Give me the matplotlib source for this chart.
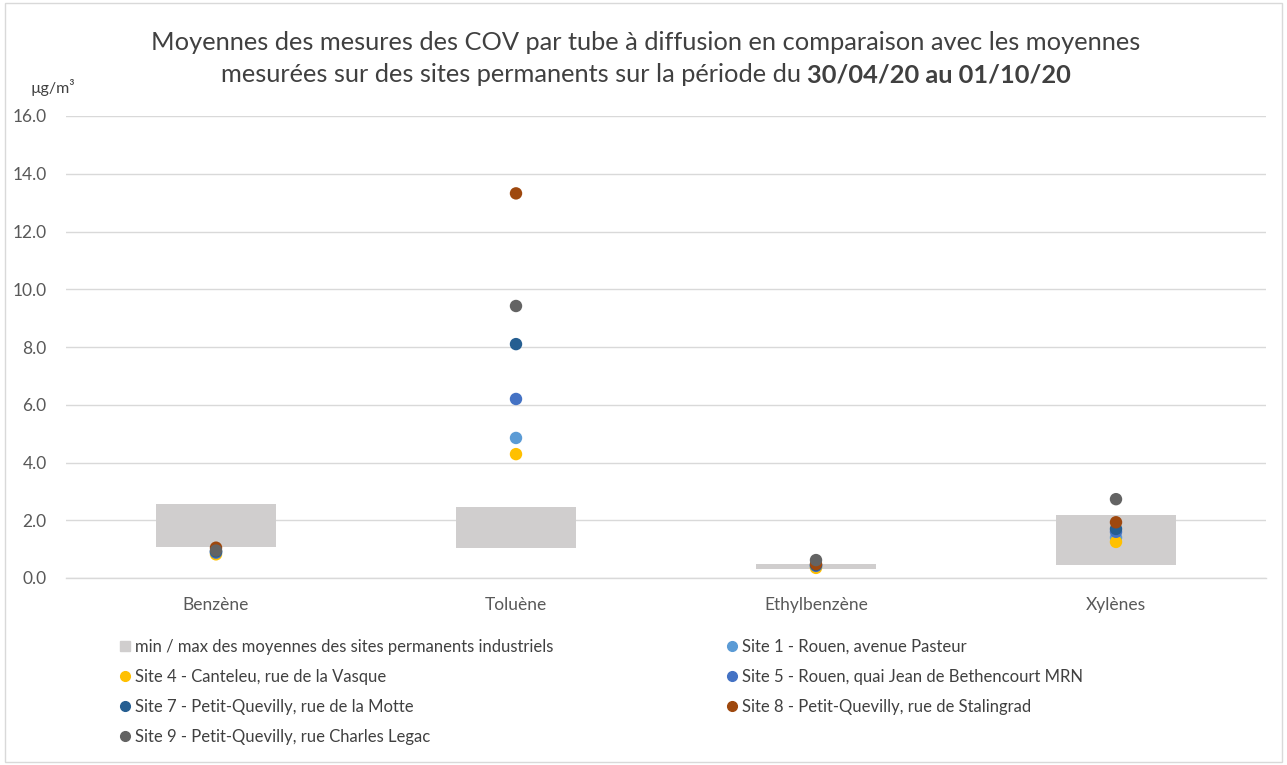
import matplotlib
matplotlib.use("Agg")
import matplotlib.pyplot as plt
import numpy as np
from matplotlib.patches import Rectangle
from matplotlib.lines import Line2D

plt.rcParams['font.family'] = ['Lato', 'DejaVu Sans']

categories = ["Benzène", "Toluène", "Ethylbenzène", "Xylènes"]
perm_min = [1.07, 1.04, 0.30, 0.45]
perm_max = [2.56, 2.46, 0.48, 2.18]

site_labels = [
    "Site 1 - Rouen, avenue Pasteur",
    "Site 4 - Canteleu, rue de la Vasque",
    "Site 5 - Rouen, quai Jean de Bethencourt MRN",
    "Site 7 - Petit-Quevilly, rue de la Motte",
    "Site 8 - Petit-Quevilly, rue de Stalingrad",
    "Site 9 - Petit-Quevilly, rue Charles Legac",
]
site1 = [0.90, 4.85, 0.40, 1.40]
site4 = [0.82, 4.29, 0.35, 1.25]
site5 = [0.88, 6.20, 0.42, 1.60]
site7 = [0.92, 8.10, 0.45, 1.70]
site8 = [1.05, 13.32, 0.48, 1.93]
site9 = [0.95, 9.42, 0.62, 2.73]
site_values = [site1, site4, site5, site7, site8, site9]
site_colors = ["#5B9BD5", "#FFC000", "#4472C4", "#255E91", "#9E480E", "#636363"]

fig = plt.figure(figsize=(12.87, 7.65), dpi=100)
ax = fig.add_axes([66/1287, 1-578/765, 1200/1287, (578-116)/765])

x = np.arange(len(categories))
heights = [mx - mn for mn, mx in zip(perm_min, perm_max)]
ax.bar(x, heights, bottom=perm_min, width=0.4, color="#D0CECE", zorder=2,
       label="min / max des moyennes des sites permanents industriels")

handles = []
for vals, col, lab in zip(site_values, site_colors, site_labels):
    ax.scatter(x, vals, s=80, color=col, zorder=3, edgecolors='none')
    handles.append(Line2D([], [], marker='o', linestyle='none', color=col,
                          markersize=7, label=lab))

ax.set_xlim(-0.5, len(categories) - 0.5)
ax.set_ylim(0, 16)
ax.set_yticks(np.arange(0, 16.1, 2))
ax.set_yticklabels([f"{v:.1f}" for v in np.arange(0, 16.1, 2)])
ax.set_xticks(x)
ax.set_xticklabels(categories)
ax.tick_params(axis='both', length=0, labelsize=12.5, colors="#595959")
ax.tick_params(axis='x', pad=14)
ax.tick_params(axis='y', pad=14)
ax.grid(axis='y', color="#D9D9D9", linewidth=1, zorder=0)
ax.set_axisbelow(True)
for s in ['top', 'right', 'left']:
    ax.spines[s].set_visible(False)
ax.spines['bottom'].set_color("#D9D9D9")
ax.spines['bottom'].set_linewidth(1)

bar_handle = Line2D([], [], marker='s', linestyle='none', color="#D0CECE",
                    markersize=7, label="min / max des moyennes des sites permanents industriels")
order = [bar_handle, handles[1], handles[3], handles[5], handles[0], handles[2], handles[4]]
leg = fig.legend(handles=order, loc='upper left', bbox_to_anchor=(102/1287, 1-624/765),
                 ncol=2, frameon=False, fontsize=12, handletextpad=0.1,
                 columnspacing=10.2, labelspacing=0.84, handlelength=1.0)
for t in leg.get_texts():
    t.set_color("#404040")

title_color = "#404040"
fs_title = 18.3
fig.text(0.502, 1-42/765, "Moyennes des mesures des COV par tube à diffusion en comparaison avec les moyennes",
         ha='center', va='center', fontsize=fs_title, color=title_color)
fig.canvas.draw()
r = fig.canvas.get_renderer()
t1 = fig.text(0, 1-75/765, "mesurées sur des sites permanents sur la période du ",
              ha='left', va='center', fontsize=fs_title, color=title_color)
t2 = fig.text(0, 1-75/765, "30/04/20 au 01/10/20", ha='left', va='center',
              fontsize=fs_title, color=title_color, fontweight='bold')
w1 = t1.get_window_extent(r).width
w2 = t2.get_window_extent(r).width
total = w1 + w2
start = 0.502 * fig.bbox.width - total / 2
t1.set_x(start / fig.bbox.width)
t2.set_x((start + w1) / fig.bbox.width)

fig.text(31/1287, 1-88/765, "µg/m³", ha='left', va='center', fontsize=11.5, color="#404040")

fig.patches.append(Rectangle((0.004, 0.004), 0.992, 0.992, transform=fig.transFigure,
                             fill=False, edgecolor="#D9D9D9", linewidth=1))

fig.savefig("out.png", dpi=100)
